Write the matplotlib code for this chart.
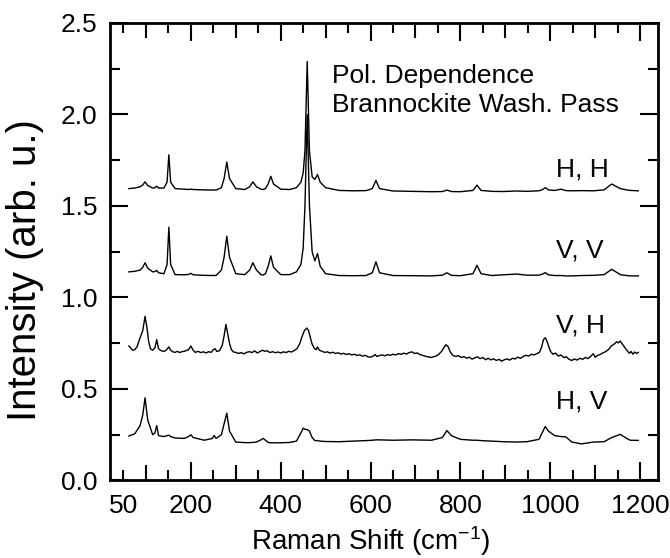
import matplotlib
matplotlib.use("Agg")
import matplotlib.pyplot as plt
from matplotlib.ticker import FixedLocator, FixedFormatter, NullLocator

plt.rcParams['font.family'] = ['Liberation Sans', 'DejaVu Sans']
plt.rcParams['mathtext.fontset'] = 'custom'
plt.rcParams['mathtext.rm'] = 'Liberation Sans'
plt.rcParams['mathtext.it'] = 'Liberation Sans'

# ---- data ----
raman_shift = [62, 75, 87, 93, 98, 104, 115, 120, 124, 128, 140, 147, 151, 155, 165,
               185, 195, 200, 205, 230, 248, 252, 256, 268, 274, 280, 286, 300, 320,
               331, 338, 346, 356, 361, 366, 372, 378, 384, 400, 420, 435, 445, 450,
               454, 459, 464, 470, 476, 482, 488, 500, 530, 560, 590, 604, 612, 620,
               650, 692, 736, 760, 770, 780, 800, 828, 837, 846, 870, 895, 925, 948,
               975, 983, 989, 996, 1010, 1024, 1035, 1048, 1070, 1096, 1120, 1137,
               1156, 1170, 1178, 1196]

hh = [1.595, 1.598, 1.605, 1.615, 1.632, 1.612, 1.598, 1.600, 1.608, 1.598, 1.598,
      1.630, 1.780, 1.630, 1.595, 1.592, 1.590, 1.592, 1.590, 1.588, 1.587, 1.588,
      1.587, 1.600, 1.650, 1.740, 1.650, 1.595, 1.590, 1.605, 1.632, 1.605, 1.592,
      1.590, 1.595, 1.620, 1.662, 1.620, 1.592, 1.590, 1.600, 1.630, 1.680, 1.800,
      2.290, 1.800, 1.660, 1.645, 1.672, 1.630, 1.600, 1.585, 1.583, 1.584, 1.595,
      1.640, 1.595, 1.582, 1.580, 1.578, 1.579, 1.587, 1.579, 1.578, 1.585, 1.614,
      1.585, 1.580, 1.579, 1.582, 1.580, 1.583, 1.590, 1.600, 1.588, 1.585, 1.592,
      1.584, 1.583, 1.584, 1.583, 1.588, 1.620, 1.595, 1.588, 1.585, 1.583]

vv = [1.140, 1.143, 1.150, 1.165, 1.190, 1.160, 1.140, 1.142, 1.148, 1.135, 1.130,
      1.180, 1.384, 1.180, 1.125, 1.124, 1.126, 1.132, 1.124, 1.121, 1.120, 1.121,
      1.120, 1.150, 1.220, 1.335, 1.220, 1.130, 1.125, 1.150, 1.190, 1.150, 1.125,
      1.123, 1.130, 1.170, 1.227, 1.165, 1.125, 1.125, 1.140, 1.180, 1.270, 1.500,
      2.000, 1.500, 1.250, 1.200, 1.240, 1.170, 1.130, 1.120, 1.119, 1.120, 1.135,
      1.195, 1.135, 1.120, 1.119, 1.118, 1.122, 1.135, 1.121, 1.119, 1.130, 1.176,
      1.130, 1.120, 1.124, 1.128, 1.122, 1.122, 1.128, 1.136, 1.124, 1.120, 1.120,
      1.118, 1.118, 1.120, 1.121, 1.125, 1.154, 1.125, 1.120, 1.118, 1.118]

hv = [0.243, 0.255, 0.300, 0.360, 0.452, 0.330, 0.250, 0.260, 0.300, 0.245, 0.240,
      0.245, 0.248, 0.240, 0.232, 0.230, 0.240, 0.250, 0.235, 0.220, 0.230, 0.246,
      0.230, 0.250, 0.310, 0.368, 0.270, 0.210, 0.207, 0.207, 0.208, 0.210, 0.222,
      0.230, 0.220, 0.208, 0.206, 0.206, 0.206, 0.208, 0.215, 0.260, 0.286, 0.280,
      0.278, 0.270, 0.235, 0.218, 0.218, 0.215, 0.213, 0.212, 0.215, 0.218, 0.220,
      0.222, 0.222, 0.220, 0.222, 0.220, 0.235, 0.273, 0.245, 0.225, 0.220, 0.220,
      0.218, 0.215, 0.212, 0.210, 0.212, 0.225, 0.265, 0.295, 0.270, 0.245, 0.240,
      0.238, 0.210, 0.200, 0.210, 0.212, 0.235, 0.252, 0.230, 0.220, 0.219]

# V,H is noisier, so it is read at a finer spacing
vh_shift = [62, 66, 70, 75, 80, 87, 93, 98, 102, 106, 110, 115, 120, 124, 128, 133,
            140, 145, 151, 155, 160, 165, 170, 175, 180, 185, 190, 195, 200, 205,
            210, 216, 222, 228, 234, 240, 245, 250, 254, 258, 264, 270, 274, 278,
            282, 286, 290, 295, 300, 306, 312, 318, 324, 330, 336, 342, 348, 354,
            360, 364, 370, 376, 382, 388, 394, 400, 406, 412, 418, 424, 430, 436,
            442, 448, 453, 458, 462, 466, 470, 475, 479, 482, 486, 492, 498, 504,
            510, 516, 522, 528, 534, 540, 546, 552, 558, 564, 570, 576, 582, 588,
            594, 600, 606, 610, 614, 620, 626, 632, 638, 644, 650, 656, 662, 668,
            674, 680, 686, 692, 698, 704, 710, 716, 722, 728, 734, 740, 746, 752,
            758, 763, 768, 773, 778, 784, 790, 796, 802, 808, 814, 820, 826, 832,
            838, 844, 850, 856, 862, 868, 874, 880, 886, 892, 898, 904, 910, 916,
            922, 928, 934, 940, 946, 952, 958, 964, 970, 976, 981, 985, 989, 993,
            997, 1001, 1006, 1012, 1018, 1024, 1030, 1036, 1042, 1048, 1054, 1060,
            1066, 1072, 1078, 1084, 1090, 1096, 1100, 1106, 1112, 1118, 1124, 1130,
            1136, 1142, 1148, 1152, 1156, 1160, 1164, 1168, 1172, 1176, 1180, 1184,
            1188, 1192, 1196]
vh = [0.735, 0.725, 0.712, 0.715, 0.730, 0.780, 0.820, 0.897, 0.840, 0.760, 0.720,
      0.712, 0.725, 0.770, 0.720, 0.710, 0.705, 0.712, 0.730, 0.712, 0.703, 0.700,
      0.706, 0.699, 0.704, 0.706, 0.710, 0.715, 0.735, 0.712, 0.700, 0.706, 0.699,
      0.703, 0.697, 0.704, 0.700, 0.715, 0.720, 0.705, 0.710, 0.740, 0.790, 0.853,
      0.800, 0.750, 0.715, 0.702, 0.700, 0.694, 0.699, 0.692, 0.700, 0.704, 0.699,
      0.708, 0.697, 0.705, 0.712, 0.706, 0.709, 0.699, 0.704, 0.698, 0.702, 0.697,
      0.703, 0.699, 0.706, 0.702, 0.710, 0.720, 0.745, 0.790, 0.820, 0.833, 0.820,
      0.780, 0.745, 0.722, 0.715, 0.730, 0.712, 0.706, 0.700, 0.703, 0.696, 0.701,
      0.694, 0.698, 0.691, 0.695, 0.689, 0.693, 0.686, 0.690, 0.683, 0.687, 0.679,
      0.684, 0.676, 0.674, 0.680, 0.688, 0.678, 0.683, 0.686, 0.681, 0.688, 0.684,
      0.690, 0.686, 0.693, 0.689, 0.696, 0.691, 0.699, 0.703, 0.694, 0.697, 0.688,
      0.684, 0.679, 0.676, 0.672, 0.676, 0.680, 0.690, 0.705, 0.725, 0.742, 0.730,
      0.700, 0.682, 0.678, 0.682, 0.672, 0.677, 0.668, 0.674, 0.663, 0.670, 0.676,
      0.666, 0.672, 0.660, 0.668, 0.659, 0.665, 0.656, 0.662, 0.652, 0.660, 0.664,
      0.658, 0.668, 0.664, 0.674, 0.668, 0.678, 0.684, 0.680, 0.690, 0.686, 0.693,
      0.700, 0.730, 0.770, 0.780, 0.760, 0.730, 0.705, 0.690, 0.696, 0.680, 0.686,
      0.672, 0.676, 0.662, 0.656, 0.664, 0.658, 0.668, 0.662, 0.672, 0.666, 0.678,
      0.693, 0.674, 0.684, 0.690, 0.698, 0.705, 0.716, 0.735, 0.745, 0.758, 0.752,
      0.762, 0.748, 0.735, 0.720, 0.708, 0.695, 0.705, 0.690, 0.702, 0.694, 0.700]

series_x = [raman_shift, raman_shift, vh_shift, raman_shift]
series_y = [hh, vv, vh, hv]
series_labels = ["H, H", "V, V", "V, H", "H, V"]
label_y = [1.659, 1.220, 0.810, 0.394]

title_lines = ["Pol. Dependence", "Brannockite Wash. Pass"]

x_major = [200, 400, 600, 800, 1000, 1200]
x_medium = [100, 300, 500, 700, 900, 1100]
x_minor = [50, 150, 250, 350, 450, 550, 650, 750, 850, 950, 1050, 1150]
x_minor_labels = ["50"] + [""] * 11
y_major = [0.0, 0.5, 1.0, 1.5, 2.0, 2.5]
y_minor = [0.25, 0.75, 1.25, 1.75, 2.25]

# ---- figure ----
fig = plt.figure(figsize=(6.7, 5.58), dpi=100)
ax = fig.add_axes([0.1642, 0.1389, 0.8179, 0.8199])

for xs, ys in zip(series_x, series_y):
    ax.plot(xs, ys, color='black', lw=1.0)

ax.set_xlim(20, 1240)
ax.set_ylim(0, 2.5)

ax.xaxis.set_major_locator(FixedLocator(x_major))
ax.xaxis.set_minor_locator(FixedLocator(x_minor))
ax.xaxis.set_minor_formatter(FixedFormatter(x_minor_labels))
ax.yaxis.set_major_locator(FixedLocator(y_major))
ax.yaxis.set_minor_locator(FixedLocator(y_minor))
ax.set_yticklabels([f"{v:.1f}" for v in y_major])

ax.tick_params(which='both', direction='in', top=True, right=True, width=1.5,
               labelsize=19)
ax.tick_params(which='major', length=13)
ax.tick_params(which='minor', length=7.5)
ax.tick_params(axis='x', which='both', pad=10)
ax.tick_params(axis='y', which='both', pad=9)

for side in ['bottom', 'top']:
    sec = ax.secondary_xaxis(side)
    sec.xaxis.set_major_locator(FixedLocator(x_medium))
    sec.xaxis.set_minor_locator(NullLocator())
    sec.tick_params(direction='in', length=10.5, width=1.5,
                    labelbottom=False, labeltop=False)
    for sp in sec.spines.values():
        sp.set_visible(False)

for sp in ax.spines.values():
    sp.set_linewidth(2.0)

ax.set_xlabel("Raman Shift (cm$^{-1}$)", fontsize=20)
ax.xaxis.set_label_coords(0.476, -0.095)
ax.set_ylabel("Intensity (arb. u.)", fontsize=29)
ax.yaxis.set_label_coords(-0.12, 0.46)

ax.text(514, 2.174, title_lines[0], fontsize=19, ha='left', va='baseline')
ax.text(514, 2.016, title_lines[1], fontsize=19, ha='left', va='baseline')
for lab, yy in zip(series_labels, label_y):
    ax.text(1014, yy, lab, fontsize=19, ha='left', va='baseline')

fig.savefig("out.png", dpi=100)
